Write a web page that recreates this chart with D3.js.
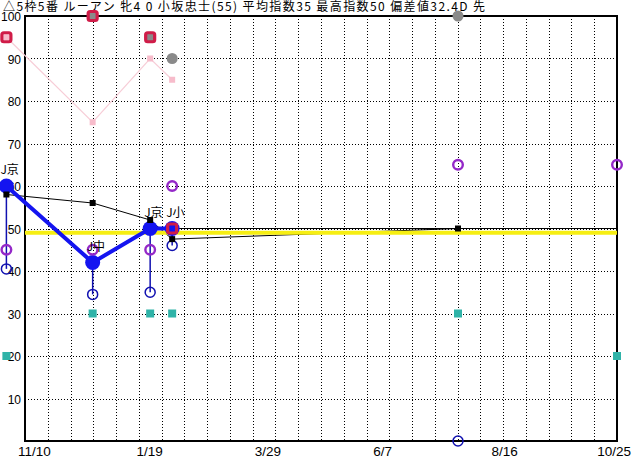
<!DOCTYPE html>
<html><head><meta charset="utf-8">
<script src="https://cdn.jsdelivr.net/npm/d3@7/dist/d3.min.js"></script>
<style>
html,body{margin:0;padding:0;background:#fff;}
svg{display:block;}
text{font-family:"Liberation Sans",Arial,sans-serif;}
.jp{font-family:"Noto Sans CJK JP","Noto Sans",sans-serif;}
</style></head>
<body><svg id="c" width="632" height="460"></svg>
<script>
// ---- data ----
const title = "△5枠5番 ルーアン 牝4 0 小坂忠士(55) 平均指数35 最高指数50 偏差値32.4D 先";
const domainDates = ["2007-11-10", "2008-10-25"];
const xTickDates = ["2007-11-10", "2008-01-19", "2008-03-29", "2008-06-07", "2008-08-16", "2008-10-25"];
const xTickLabels = ["11/10", "1/19", "3/29", "6/7", "8/16", "10/25"];
const yTicks = [10, 20, 30, 40, 50, 60, 70, 80, 90, 100];
const raceDates = ["2007-10-30", "2007-12-20", "2008-01-23", "2008-02-05", "2008-07-23", "2008-10-25"];
const courses = ["J京", "J中", "J京", "J小", null, null];
const speedIndex = [60, 42, 50, 50, null, null];          // blue big circles + thick line
const lowerIndex = [40.5, 34.5, 35, 46, 0, null];          // blue hollow circles
const avgIndex = [58, 56, 52, 47.5, 50, null];            // black squares + line
const lastLevel = 50;                                      // black horizontal line
const purpleVals = [45, 45, 45, 60, 65, 65];               // purple rings
const tealVals = [20, 30, 30, 30, 30, 20];                 // teal squares
const grayVals = [null, 100, 95, 90, 100, null];           // gray dots
const pinkVals = [95, 75, 90, 85, null, null];             // pink line + squares
const redMarks = [95, 100, 95, 50, null, null];            // crimson rings
const baseLine = 49;                                       // yellow line

// ---- scales ----
const parse = d3.timeParse("%Y-%m-%d");
const svg = d3.select("#c");
const x = d3.scaleTime().domain(domainDates.map(parse)).range([25, 617]);
const y = d3.scaleLinear().domain([0, 100]).range([441, 16]);
const rx = raceDates.map(d => x(parse(d)));
const idx = d3.range(raceDates.length);

// ---- grid ----
const [x0, x1] = x.range();
const grid = svg.append("g").attr("stroke", "#000").attr("stroke-width", 1)
  .attr("stroke-dasharray", "1,2").attr("shape-rendering", "crispEdges");
d3.range(1, 26).forEach(i => {
  const gx = Math.round(x0 + i * (x1 - x0) / 26) + 0.5;
  grid.append("line").attr("x1", gx).attr("x2", gx).attr("y1", y(100)).attr("y2", y(0));
});
yTicks.filter(v => v < 100).forEach(v => {
  const gy = Math.round(y(v)) + 0.5;
  grid.append("line").attr("x1", x0).attr("x2", x1).attr("y1", gy).attr("y2", gy);
});

// ---- axis labels ----
yTicks.forEach(v => {
  svg.append("text").attr("x", 21).attr("y", y(v) + 5).attr("text-anchor", "end")
    .attr("font-size", 12).text(v);
});
xTickDates.forEach((d, i) => {
  const t = svg.append("text").attr("x", x(parse(d)) - 7).attr("y", 456)
    .attr("font-size", 13.5).text(xTickLabels[i]);
  const w = t.node().getComputedTextLength();
  if (x(parse(d)) - 7 + w > 631) t.attr("x", 631 - w);
});

// ---- frame ----
svg.append("rect").attr("x", x0).attr("y", y(100)).attr("width", x1 - x0).attr("height", y(0) - y(100))
  .attr("fill", "none").attr("stroke", "#000").attr("stroke-width", 2.5).attr("shape-rendering", "crispEdges");

// ---- title ----
svg.append("text").attr("class", "jp").attr("x", 3).attr("y", 11).attr("font-size", 12)
  .attr("textLength", 482).attr("lengthAdjust", "spacing").text(title);

// ---- lines ----
const line = d3.line().defined(d => d[1] != null).x(d => d[0]).y(d => y(d[1]));
const pinkPts = idx.map(i => [rx[i], pinkVals[i]]);
svg.append("path").attr("d", line(pinkPts)).attr("fill", "none").attr("stroke", "#f7cdd7").attr("stroke-width", 1.2);

const avgPts = idx.map(i => [rx[i], avgIndex[i]]);
svg.append("path").attr("d", line(avgPts)).attr("fill", "none").attr("stroke", "#000").attr("stroke-width", 1);
svg.append("line").attr("x1", rx[3]).attr("x2", x1).attr("y1", y(lastLevel)).attr("y2", y(lastLevel))
  .attr("stroke", "#000").attr("stroke-width", 1);

svg.append("line").attr("x1", x0).attr("x2", x1).attr("y1", y(baseLine)).attr("y2", y(baseLine))
  .attr("stroke", "#f6ee12").attr("stroke-width", 4);

// blue vertical ranges
idx.forEach(i => {
  if (speedIndex[i] != null && lowerIndex[i] != null)
    svg.append("line").attr("x1", rx[i]).attr("x2", rx[i]).attr("y1", y(speedIndex[i])).attr("y2", y(lowerIndex[i]))
      .attr("stroke", "#1010b0").attr("stroke-width", 1.5);
});
const spPts = idx.map(i => [rx[i], speedIndex[i]]);
svg.append("path").attr("d", line(spPts)).attr("fill", "none").attr("stroke", "#1414f0").attr("stroke-width", 4)
  .attr("stroke-linejoin", "round");

// ---- markers ----
idx.forEach(i => {
  if (tealVals[i] != null)
    svg.append("rect").attr("x", rx[i] - 4).attr("y", y(tealVals[i]) - 4).attr("width", 8).attr("height", 8).attr("fill", "#2fb3a8");
});
idx.forEach(i => {
  if (speedIndex[i] != null)
    svg.append("circle").attr("cx", rx[i]).attr("cy", y(speedIndex[i])).attr("r", 7.5).attr("fill", "#1414f0");
});
idx.forEach(i => {
  if (purpleVals[i] != null)
    svg.append("circle").attr("cx", rx[i]).attr("cy", y(purpleVals[i])).attr("r", 4.8).attr("fill", "none")
      .attr("stroke", "#9428c8").attr("stroke-width", 2.4);
});
idx.forEach(i => {
  if (lowerIndex[i] != null)
    svg.append("circle").attr("cx", rx[i]).attr("cy", y(lowerIndex[i])).attr("r", 5).attr("fill", "none")
      .attr("stroke", "#1010b0").attr("stroke-width", 1.5);
});
idx.forEach(i => {
  if (avgIndex[i] != null)
    svg.append("rect").attr("x", rx[i] - 3).attr("y", y(avgIndex[i]) - 3).attr("width", 6).attr("height", 6).attr("fill", "#000");
});
idx.forEach(i => {
  if (grayVals[i] != null)
    svg.append("circle").attr("cx", rx[i]).attr("cy", y(grayVals[i])).attr("r", 5.5).attr("fill", "#8a8a8a");
});
idx.forEach(i => {
  if (pinkVals[i] != null)
    svg.append("rect").attr("x", rx[i] - 3).attr("y", y(pinkVals[i]) - 3).attr("width", 6).attr("height", 6).attr("fill", "#f7bccb");
});
idx.forEach(i => {
  if (redMarks[i] != null)
    svg.append("rect").attr("x", rx[i] - 4.5).attr("y", y(redMarks[i]) - 4.5).attr("width", 9).attr("height", 9)
      .attr("rx", 2).attr("fill", "none").attr("stroke", "#d01c48").attr("stroke-width", 3.2);
});

// ---- course labels ----
idx.forEach(i => {
  if (courses[i] != null && speedIndex[i] != null)
    svg.append("text").attr("class", "jp").attr("x", rx[i] - 6).attr("y", y(speedIndex[i]) - 12)
      .attr("font-size", 12).text(courses[i]);
});
</script></body></html>
